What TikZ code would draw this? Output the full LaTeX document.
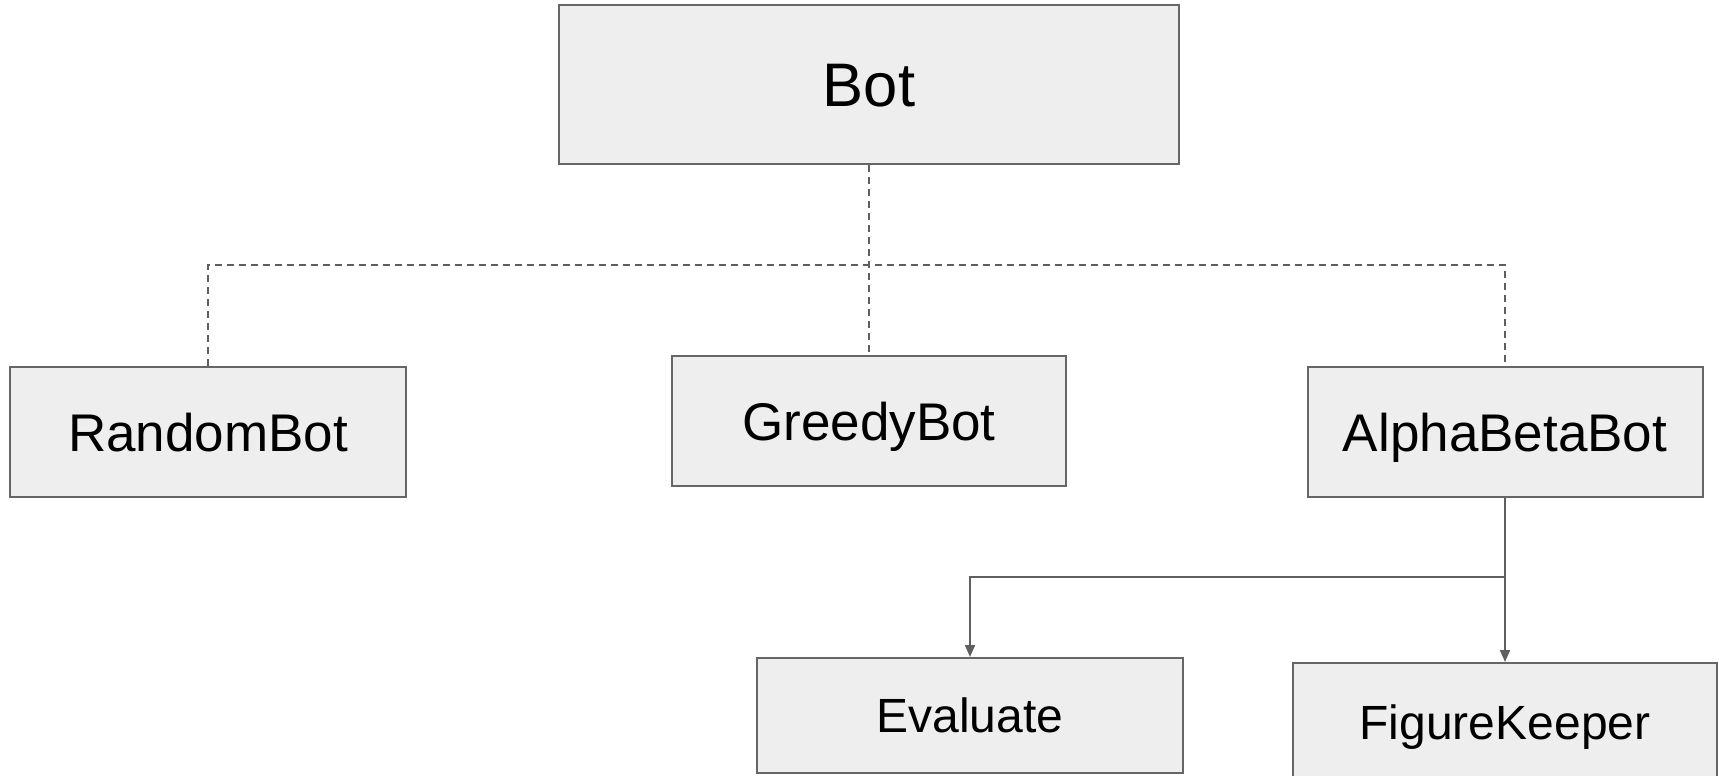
\documentclass[tikz,border=0pt]{standalone}
\usepackage{fontspec}
\setmainfont{Liberation Sans}
\usetikzlibrary{arrows.meta}
\definecolor{boxfill}{HTML}{EEEEEE}
\definecolor{boxline}{HTML}{666666}
\definecolor{wire}{HTML}{5F5F5F}
\tikzset{
  classbox/.style={draw=boxline, fill=boxfill, line width=1pt, inner sep=0pt,
    text depth=0pt},
  toplevel/.style={classbox, font=\fontsize{30.75}{31}\selectfont, text height=22pt},
  midlevel/.style={classbox, font=\fontsize{26.5}{27}\selectfont, text height=19pt},
  lowlevel/.style={classbox, font=\fontsize{24}{25}\selectfont, text height=17.2pt},
  inherit/.style={draw=wire, line width=1pt, dash pattern=on 3.5pt off 2.5pt},
  uses/.style={draw=wire, line width=1pt, -{Triangle[length=6pt,width=5pt]}},
}
\begin{document}
\begin{tikzpicture}[x=0.5pt, y=-0.5pt]
  \useasboundingbox (0,0) rectangle (1719,776);
  \clip (0,0) rectangle (1719,776);

  % class boxes
  \node[toplevel, minimum width=310pt, minimum height=79.5pt] (bot) at (869,84.5) {Bot};
  \node[midlevel, minimum width=198pt, minimum height=65pt] (random) at (208,432) {RandomBot};
  \node[midlevel, minimum width=197pt, minimum height=65pt] (greedy) at (869,421) {GreedyBot};
  \node[midlevel, minimum width=197.5pt, minimum height=65pt] (alpha) at (1505,432) {AlphaBetaBot};
  \node[lowlevel, minimum width=213pt, minimum height=57.5pt] (eval) at (970,715.5) {Evaluate};
  \node[lowlevel, minimum width=212pt, minimum height=59pt] (keeper) at (1505,722) {FigureKeeper};

  % inheritance bus
  \coordinate (bus) at (869,265);
  \draw[inherit] (bot.south) -- (greedy.north);
  \draw[inherit] (random.north) |- (bus) -| (alpha.north);

  % dependencies of AlphaBetaBot
  \coordinate (split) at (1505,577);
  \draw[uses] (alpha.south) -- (split) -| (eval.north);
  \draw[uses] (split) -- (keeper.north);
\end{tikzpicture}
\end{document}
